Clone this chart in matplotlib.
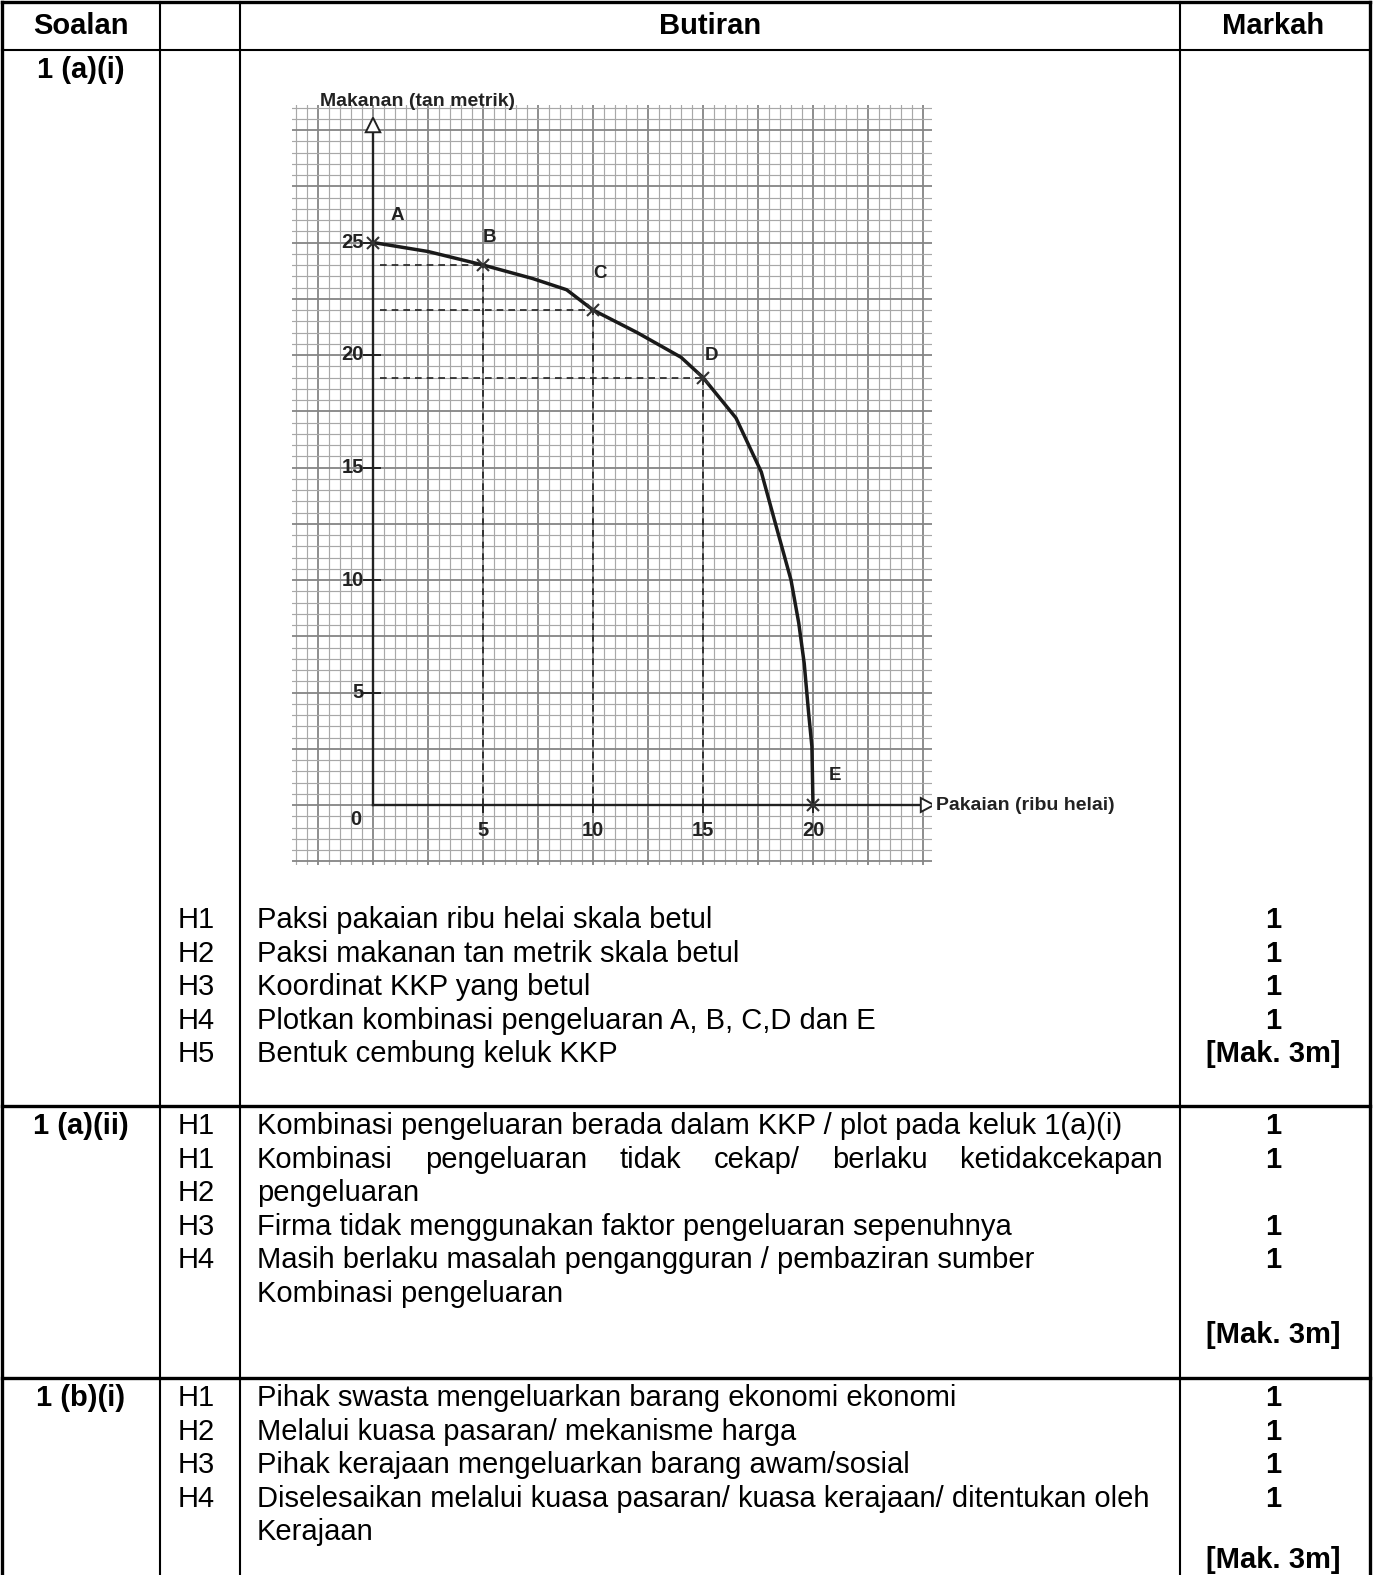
import numpy as np
import matplotlib
matplotlib.use("Agg")
import matplotlib.pyplot as plt
from matplotlib.patches import Polygon

plt.rcParams["font.family"] = ["Liberation Sans", "DejaVu Sans"]

# --- data -------------------------------------------------------------------
header = ["Soalan", "Butiran", "Markah"]

point_names = ["A", "B", "C", "D", "E"]
pakaian = [0, 5, 10, 15, 20]          # ribu helai
makanan = [25, 24, 22, 19, 0]         # tan metrik

# hand-drawn curve
curve_x = [0, 2.5, 5, 7.25, 8.8, 10, 12, 14, 15, 16.5, 17.65, 18.35,
           19.0, 19.35, 19.6, 19.8, 19.95, 20]
curve_y = [25, 24.6, 24, 23.4, 22.9, 22, 21.0, 19.9, 19, 17.2, 14.8, 12.3,
           10.0, 8.1, 6.3, 4.1, 2.6, 0]

y_ticks = [5, 10, 15, 20, 25]
x_ticks = [5, 10, 15, 20]

row_labels = ["1 (a)(i)", "1 (a)(ii)", "1 (b)(i)"]

r1_codes = ["H1", "H2", "H3", "H4", "H5"]
r1_text = ["Paksi pakaian ribu helai skala betul",
           "Paksi makanan tan metrik skala betul",
           "Koordinat KKP yang betul",
           "Plotkan kombinasi pengeluaran A, B, C,D dan E",
           "Bentuk cembung keluk KKP"]
r1_marks = ["1", "1", "1", "1", "[Mak. 3m]"]

r2_codes = ["H1", "H1", "H2", "H3", "H4", ""]
r2_text = ["Kombinasi pengeluaran berada dalam KKP / plot pada keluk 1(a)(i)",
           "Kombinasi pengeluaran tidak cekap/ berlaku ketidakcekapan",
           "pengeluaran",
           "Firma tidak menggunakan faktor pengeluaran sepenuhnya",
           "Masih berlaku masalah pengangguran / pembaziran sumber",
           "Kombinasi pengeluaran"]
r2_marks = ["1", "1", "", "1", "1", ""]

r3_codes = ["H1", "H2", "H3", "H4", ""]
r3_text = ["Pihak swasta mengeluarkan barang ekonomi ekonomi",
           "Melalui kuasa pasaran/ mekanisme harga",
           "Pihak kerajaan mengeluarkan barang awam/sosial",
           "Diselesaikan melalui kuasa pasaran/ kuasa kerajaan/ ditentukan oleh",
           "Kerajaan"]
r3_marks = ["1", "1", "1", "1", ""]

max_mark = "[Mak. 3m]"

# --- figure / table frame (pixel coordinates) --------------------------------
W, H = 1373, 1575
fig = plt.figure(figsize=(W / 100, H / 100), dpi=100)
fig.patch.set_facecolor("white")
tb = fig.add_axes([0, 0, 1, 1])
tb.set_xlim(0, W)
tb.set_ylim(H, 0)
tb.axis("off")

X_L, X_S, X_H, X_M, X_R = 2, 160, 240, 1180, 1370
Y_TOP, Y_HDR, Y_R1, Y_R2 = 2, 50, 1106, 1378

thick, thin = 2.4, 1.5
tb.plot([X_L, X_R], [Y_TOP, Y_TOP], color="k", lw=thick)
tb.plot([X_L, X_R], [Y_HDR, Y_HDR], color="k", lw=thin)
for y in (Y_R1, Y_R2):
    tb.plot([X_L, X_R], [y, y], color="k", lw=thick)
for x, lw in ((X_L, thick), (X_S, thin), (X_H, thin), (X_M, thin), (X_R, thick)):
    tb.plot([x, x], [Y_TOP, H + 5], color="k", lw=lw)

FS = 21
STEP = 33.6
xs_mid = (X_L + X_S) / 2
xm_mid = (X_M + X_R) / 2 - 2
tb.text(xs_mid, 26, header[0], ha="center", va="center", fontsize=FS, fontweight="bold")
tb.text((X_H + X_M) / 2, 26, header[1], ha="center", va="center", fontsize=FS, fontweight="bold")
tb.text(xm_mid, 26, header[2], ha="center", va="center", fontsize=FS, fontweight="bold")

r = fig.canvas.get_renderer()


def justify(words, x0, x1, y):
    ts = [tb.text(x0, y, w, ha="left", va="center", fontsize=FS) for w in words]
    widths = [t.get_window_extent(r).width for t in ts]
    gap = (x1 - x0 - sum(widths)) / (len(words) - 1)
    x = x0
    for t, w in zip(ts, widths):
        t.set_x(x)
        x += w + gap


def block(y0, codes, texts, marks, justified=()):
    for i, (c, t, m) in enumerate(zip(codes, texts, marks)):
        y = y0 + i * STEP
        tb.text(178, y, c, ha="left", va="center", fontsize=FS)
        if i in justified:
            justify(t.split(), 257, 1163, y)
        else:
            tb.text(257, y, t, ha="left", va="center", fontsize=FS)
        if m:
            tb.text(xm_mid, y, m, ha="center", va="center", fontsize=FS, fontweight="bold")


tb.text(xs_mid, 70, row_labels[0], ha="center", va="center", fontsize=FS, fontweight="bold")
block(920, r1_codes, r1_text, r1_marks)

tb.text(xs_mid, 1126, row_labels[1], ha="center", va="center", fontsize=FS, fontweight="bold")
block(1126, r2_codes, r2_text, r2_marks, justified=(1,))
tb.text(xm_mid, 1335, max_mark, ha="center", va="center", fontsize=FS, fontweight="bold")

tb.text(xs_mid, 1398, row_labels[2], ha="center", va="center", fontsize=FS, fontweight="bold")
block(1398, r3_codes, r3_text, r3_marks)
tb.text(xm_mid, 1560, max_mark, ha="center", va="center", fontsize=FS, fontweight="bold")

# --- graph paper with the KKP curve -----------------------------------------
ox, oy = 373, 805        # pixel position of the origin
ux, uy = 22.0, 22.5      # pixels per unit
pL, pR, pT, pB = 292, 932, 105, 865
g = fig.add_axes([pL / W, 1 - pB / H, (pR - pL) / W, (pB - pT) / H])
g.set_xlim((pL - ox) / ux, (pR - ox) / ux)
g.set_ylim((oy - pB) / uy, (oy - pT) / uy)
g.set_xticks([])
g.set_yticks([])
for s in g.spines.values():
    s.set_visible(False)
g.set_facecolor("white")

x0, x1 = g.get_xlim()
y0, y1 = g.get_ylim()
for v in np.arange(np.ceil(x0 * 2) / 2, x1, 0.5):
    major = abs(v / 2.5 - round(v / 2.5)) < 1e-6
    g.axvline(v, color="#858585" if major else "#a8a8a8", lw=1.3 if major else 0.85, zorder=0)
for v in np.arange(np.ceil(y0 * 2) / 2, y1, 0.5):
    major = abs(v / 2.5 - round(v / 2.5)) < 1e-6
    g.axhline(v, color="#858585" if major else "#a8a8a8", lw=1.3 if major else 0.85, zorder=0)

# axes with open arrow heads
g.plot([0, 0], [0, 29.9], color="#222", lw=1.7, zorder=3)
g.plot([0, 24.9], [0, 0], color="#222", lw=1.7, zorder=3)
g.add_patch(Polygon([[-0.33, 29.9], [0.33, 29.9], [0, 30.55]], closed=True,
                    fc="white", ec="#222", lw=1.4, zorder=4))
g.add_patch(Polygon([[24.9, -0.31], [24.9, 0.31], [25.5, 0]], closed=True,
                    fc="white", ec="#222", lw=1.4, zorder=4))

TFS = 14.5
for v in y_ticks:
    g.plot([-0.4, 0.3], [v, v], color="#222", lw=1.4, zorder=3)
    g.text(-0.42, v, str(v), ha="right", va="center", fontsize=TFS,
           fontweight="bold", color="#222")
for v in x_ticks:
    g.plot([v, v], [0, -0.3], color="#222", lw=1.4, zorder=3)
    g.text(v, -1.12, str(v), ha="center", va="center", fontsize=TFS,
           fontweight="bold", color="#222")
g.text(-0.8, -0.65, "0", ha="center", va="center", fontsize=TFS,
       fontweight="bold", color="#222")

g.text(-2.4, (oy - 102) / uy, "Makanan (tan metrik)", ha="left", va="center",
       fontsize=14, fontweight="bold", color="#222", clip_on=False)
g.text(25.6, 0, "Pakaian (ribu helai)", ha="left", va="center",
       fontsize=14, fontweight="bold", color="#222", clip_on=False)

# dashed guides to B, C, D
for px, py in zip(pakaian[1:4], makanan[1:4]):
    g.plot([0.3, px], [py, py], color="#222", lw=1.2, ls=(0, (4, 3)), zorder=2)
    g.plot([px, px], [0, py], color="#222", lw=1.2, ls=(0, (4, 3)), zorder=2)

g.plot(curve_x, curve_y, color="#1a1a1a", lw=2.5, solid_joinstyle="round",
       solid_capstyle="round", zorder=5)
g.plot(pakaian, makanan, ls="none", marker="x", ms=9, mew=1.5, color="#333", zorder=6)

label_off = {"A": (1.1, 1.2), "B": (0.3, 1.2), "C": (0.3, 1.6), "D": (0.4, 1.0), "E": (1.0, 1.3)}
for n, px, py in zip(point_names, pakaian, makanan):
    dx, dy = label_off[n]
    g.text(px + dx, py + dy, n, ha="center", va="center", fontsize=13.5,
           fontweight="bold", color="#222")

fig.savefig("out.png", dpi=100)
